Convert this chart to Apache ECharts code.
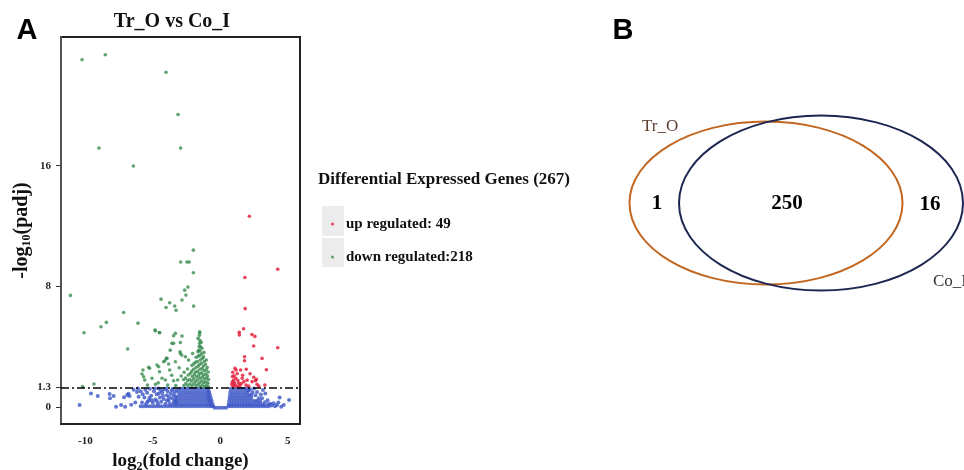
<!DOCTYPE html>
<html>
<head>
<meta charset="utf-8">
<title>Tr_O vs Co_I</title>
<script src="https://cdn.jsdelivr.net/npm/echarts@6/dist/echarts.min.js"></script>
<style>
  html, body { margin: 0; padding: 0; background: #fff; }
  #chart { width: 964px; height: 470px; }
</style>
</head>
<body>
<div id="chart"></div>
<script>
// volcano plot: [log2 fold change, -log10 padj]
const upRegulated = [
  [2.15, 12.65], [4.25, 9.13], [1.82, 8.59], [1.84, 6.52], [1.72, 5.19], [1.4, 4.95], [1.41, 4.78],
  [2.34, 4.8], [2.56, 4.68], [2.47, 4.04], [4.25, 3.93], [1.79, 3.33], [1.79, 3.07], [3.09, 3.22],
  [3.41, 2.47], [1.08, 2.56], [1.17, 2.45], [1.5, 2.45], [1.92, 2.5], [1.02, 2.07], [0.9, 2.02],
  [1.15, 1.9], [1.62, 1.9], [2.47, 1.97], [2.67, 1.83], [1.98, 1.78], [0.98, 1.78], [1.36, 1.57],
  [1.74, 1.68], [2.35, 1.68], [2.6, 1.74], [2.72, 1.5], [0.85, 1.5], [0.95, 1.38], [1.1, 1.45],
  [1.25, 1.35], [1.45, 1.42], [1.9, 1.45], [2.1, 1.38], [2.85, 1.38], [1.3, 1.75], [1.55, 1.55],
  [0.88, 1.65], [1.05, 1.6], [1.25, 2.2], [2.2, 2.2], [1.65, 2.1], [3.3, 1.45], [0.92, 2.3]
];

const downRegulated = [
  [-10.24, 23.03], [-8.52, 23.36], [-4.02, 22.2], [-3.13, 19.4], [-8.99, 17.17], [-2.94, 17.17],
  [-6.44, 15.98], [-2.0, 10.4], [-2.94, 9.62], [-2.47, 9.62], [-2.3, 9.62], [-2.0, 8.9],
  [-2.4, 7.95], [-2.64, 7.75], [-2.55, 7.42], [-2.84, 7.09], [-4.39, 7.15], [-3.75, 6.91],
  [-4.02, 6.6], [-3.38, 6.69], [-3.28, 6.42], [-1.98, 6.69], [-11.1, 7.4], [-7.16, 6.27],
  [-8.44, 5.61], [-8.84, 5.32], [-10.1, 4.92], [-6.1, 5.56], [-4.84, 5.1], [-4.49, 4.92],
  [-6.86, 3.84], [-10.2, 1.35], [-9.36, 1.52],
  [-4.81, 5.05], [-4.52, 4.94], [-3.46, 4.72], [-3.33, 4.88], [-2.84, 4.7], [-1.53, 4.92],
  [-3.58, 4.22], [-2.96, 4.28], [-1.65, 4.55], [-1.53, 4.22], [-1.48, 3.99], [-1.6, 3.77],
  [-2.96, 3.55], [-2.05, 3.55], [-4.0, 3.22], [-4.1, 3.07], [-3.33, 3.0], [-2.59, 3.33],
  [-2.35, 3.11], [-5.24, 2.56], [-5.73, 2.45], [-4.57, 2.67], [-4.5, 2.34], [-3.83, 2.85],
  [-3.75, 2.45], [-5.06, 1.9], [-5.6, 1.79], [-4.32, 1.9], [-4.07, 1.79], [-3.46, 1.74],
  [-3.16, 1.79], [-5.8, 2.19], [-5.68, 2.0], [-5.31, 2.63], [-4.69, 2.78], [-4.2, 3.0],
  [-3.95, 3.22], [-3.71, 3.77], [-3.46, 4.22], [-2.98, 3.66], [-2.86, 3.44], [-4.8, 1.5],
  [-3.9, 1.45], [-3.3, 1.42], [-5.4, 1.45], [-4.6, 1.6], [-3.6, 2.1], [-3.05, 2.6], [-2.9, 2.05],
  [-0.9, 1.36], [-0.92, 1.58], [-0.88, 1.82], [-0.95, 2.05], [-0.9, 2.32], [-0.97, 2.62],
  [-1.05, 1.42], [-1.07, 1.66], [-1.03, 1.92], [-1.08, 2.18], [-1.05, 2.46], [-1.1, 2.82], [-1.04, 3.12],
  [-1.2, 1.35], [-1.22, 1.62], [-1.18, 1.86], [-1.23, 2.12], [-1.2, 2.42], [-1.25, 2.72],
  [-1.19, 3.02], [-1.24, 3.32], [-1.21, 3.62],
  [-1.35, 1.46], [-1.37, 1.72], [-1.33, 2.0], [-1.38, 2.26], [-1.35, 2.56], [-1.4, 2.9],
  [-1.34, 3.22], [-1.38, 3.52], [-1.36, 3.9], [-1.42, 4.3],
  [-1.5, 1.36], [-1.52, 1.62], [-1.48, 1.9], [-1.53, 2.2], [-1.5, 2.5], [-1.55, 2.82],
  [-1.49, 3.12], [-1.54, 3.42], [-1.5, 3.72], [-1.56, 4.02], [-1.52, 4.42], [-1.55, 4.75], [-1.53, 4.98],
  [-1.65, 1.5], [-1.67, 1.8], [-1.63, 2.06], [-1.68, 2.36], [-1.65, 2.7], [-1.7, 3.02],
  [-1.64, 3.36], [-1.66, 3.66],
  [-1.8, 1.4], [-1.82, 1.7], [-1.78, 2.0], [-1.83, 2.3], [-1.8, 2.62], [-1.85, 2.96], [-1.79, 3.3],
  [-1.95, 1.55], [-1.97, 1.86], [-1.93, 2.16], [-1.98, 2.5], [-1.95, 2.86],
  [-2.1, 1.4], [-2.12, 1.72], [-2.08, 2.02], [-2.13, 2.36], [-2.1, 2.76],
  [-2.25, 1.52], [-2.27, 1.82], [-2.23, 2.22],
  [-2.4, 1.4], [-2.42, 1.76], [-2.38, 2.12], [-2.43, 2.52],
  [-2.55, 1.56], [-2.57, 1.92], [-2.7, 1.42], [-2.72, 1.82], [-2.68, 2.3]
];

// not significant genes: dense rows [padj level, [log2FC ...]]
const notSignificantRows = [
  [1.2, [-3.0, -2.78, -2.55, -2.33, -2.1, -1.88, -1.66, -1.44, -1.22, -1.0, -0.88,
         0.77, 0.98, 1.2, 1.42, 1.62, 1.8]],
  [1.0, [-3.1, -2.88, -2.66, -2.44, -2.22, -2.0, -1.78, -1.56, -1.34, -1.12, -0.92, -0.82,
         0.74, 0.95, 1.17, 1.38, 1.6, 1.82, 2.0]],
  [0.8, [-3.05, -2.83, -2.61, -2.39, -2.17, -1.95, -1.73, -1.51, -1.29, -1.07, -0.9, -0.76,
         0.71, 0.92, 1.13, 1.34, 1.55, 1.76, 1.97, 2.15]],
  [0.6, [-3.2, -2.98, -2.76, -2.54, -2.32, -2.1, -1.88, -1.66, -1.44, -1.22, -1.0, -0.84, -0.7,
         0.68, 0.88, 1.08, 1.28, 1.48, 1.68, 1.88, 2.08, 2.3]],
  [0.4, [-3.3, -3.08, -2.86, -2.64, -2.42, -2.2, -1.98, -1.76, -1.54, -1.32, -1.1, -0.9, -0.76, -0.64,
         0.65, 0.84, 1.04, 1.24, 1.44, 1.64, 1.84, 2.04, 2.24, 2.45, 2.62]],
  [0.2, [-3.5, -3.28, -3.06, -2.84, -2.62, -2.4, -2.18, -1.96, -1.74, -1.52, -1.3, -1.08, -0.88, -0.72, -0.58,
         0.62, 0.8, 1.0, 1.2, 1.4, 1.6, 1.8, 2.0, 2.2, 2.4, 2.6, 2.82, 3.0]],
  [0.04, [-5.9, -5.68, -5.46, -5.24, -5.02, -4.8, -4.58, -4.36, -4.14, -3.92, -3.7, -3.48, -3.26,
          -3.04, -2.82, -2.6, -2.38, -2.16, -1.94, -1.72, -1.5, -1.28, -1.06, -0.84, -0.66, -0.53,
          0.6, 0.78, 0.98, 1.18, 1.38, 1.58, 1.78, 1.98, 2.18, 2.38, 2.58, 2.78, 2.98, 3.18, 3.38, 3.58]],
  [-0.06, [-0.42, -0.22, 0, 0.22, 0.42]]
];

// not significant genes: scattered ones [log2FC, -log10 padj]
const notSignificant = [
  [-5.8, 0.3], [-5.62, 0.62], [-5.5, 0.2], [-5.42, 0.95], [-5.3, 0.42], [-5.22, 1.2], [-5.12, 0.75],
  [-5.0, 0.28], [-4.92, 1.05], [-4.82, 0.5], [-4.72, 0.85], [-4.62, 0.22], [-4.58, 1.22], [-4.48, 0.62],
  [-4.38, 0.35], [-4.3, 0.98], [-4.2, 0.52], [-4.14, 1.18], [-4.06, 0.22], [-3.96, 0.78], [-3.9, 1.05],
  [-3.82, 0.42], [-3.74, 0.2], [-3.68, 0.88], [-3.58, 0.58], [-3.52, 1.2], [-3.44, 0.35], [-3.38, 0.98],
  [-3.3, 0.7], [-3.24, 1.12], [-3.35, 0.5], [-3.6, 1.1], [-4.0, 1.22], [-4.4, 1.1], [-4.85, 1.22],
  [-5.55, 1.15], [-5.9, 1.05], [-5.75, 0.85], [-5.25, 0.6], [-4.7, 0.4], [-4.25, 0.75], [-3.8, 0.65],
  [-3.45, 0.78], [-5.08, 0.45], [-3.95, 0.45], [-3.25, 0.3], [-4.55, 0.9], [-5.4, 0.35],
  [-6.05, 0.68], [-6.17, 1.0], [-6.42, 1.15], [-6.72, 0.73], [-6.8, 0.88], [-7.13, 0.64], [-7.05, 0.02],
  [-7.35, 0.13], [-7.72, 0.02], [-7.9, 0.73], [-8.17, 0.58], [-8.2, 0.86], [-9.08, 0.73], [-9.58, 0.9],
  [-10.42, 0.13], [-6.3, 0.3], [-6.1, 1.22], [-6.9, 0.8], [-6.6, 0.15],
  [2.2, 1.18], [2.38, 0.98], [2.5, 1.22], [2.72, 1.0], [2.6, 0.78], [2.85, 0.58], [3.0, 0.82],
  [3.16, 1.13], [3.33, 0.9], [3.09, 0.58], [2.96, 0.38], [3.3, 0.32], [3.5, 0.45], [3.7, 0.22],
  [2.1, 1.1], [2.3, 0.8], [1.98, 1.22], [2.75, 0.4], [3.2, 0.15], [3.55, 0.18], [3.8, 0.1],
  [3.95, 0.24], [4.2, 0.13], [4.39, 0.62], [4.51, 0.02], [4.69, 0.13], [5.09, 0.46], [4.05, 0.05], [4.3, 0.3]
];

const xTicks = [-10, -5, 0, 5];
const yTicks = [0, 1.3, 8, 16];
const padjCutoff = 1.3;

const upCount = 49;
const downCount = 218;

// venn: counts only in Tr_O, in both, only in Co_I
const vennSets = ['Tr_O', 'Co_I'];
const vennCounts = [1, 250, 16];

const SERIF = "'Liberation Serif', 'Times New Roman', serif";
const SANS = "'Liberation Sans', Arial, sans-serif";
const upName = 'up regulated: ' + upCount;
const downName = 'down regulated:' + downCount;

const greyPoints = notSignificant.slice();
notSignificantRows.forEach(([y, xs]) => xs.forEach(x => greyPoints.push([x, y])));

const chart = echarts.init(document.getElementById('chart'));

const legendText = { fontFamily: SERIF, fontWeight: 'bold', fontSize: 15, color: '#111', lineHeight: 16 };
const nameRich = {
  a: { fontFamily: SERIF, fontWeight: 'bold', fontSize: 20, color: '#111', lineHeight: 24 },
  b: { fontFamily: SERIF, fontWeight: 'bold', fontSize: 12, color: '#111', lineHeight: 12, verticalAlign: 'bottom' }
};

function txt(x, y, text, font, fill, align) {
  return {
    type: 'text', x: x, y: y, z: 5,
    style: { text: text, font: font, fill: fill, align: align, verticalAlign: 'middle', textAlign: align, textVerticalAlign: 'middle' }
  };
}

chart.setOption({
  animation: false,
  backgroundColor: '#fff',
  grid: {
    left: 61, right: 664, top: 37, bottom: 46,
    outerBoundsMode: 'none', containLabel: false,
    show: true, borderColor: '#222', borderWidth: 2, backgroundColor: 'transparent'
  },
  xAxis: {
    type: 'value', min: -11.8, max: 5.9,
    name: '{a|log}{b|2}{a|(fold change)}',
    nameLocation: 'middle', nameGap: 25,
    nameTextStyle: {
      rich: {
        a: Object.assign({}, nameRich.a, { fontSize: 19 }),
        b: nameRich.b
      }
    },
    axisLine: { show: true, onZero: false, lineStyle: { color: '#222', width: 2 } },
    axisTick: { show: false },
    axisLabel: {
      customValues: xTicks, margin: 12,
      fontFamily: SERIF, fontWeight: 'bold', fontSize: 11, color: '#222'
    },
    splitLine: { show: false }
  },
  yAxis: {
    type: 'value', min: -1.13, max: 24.54,
    name: '{a|-log}{b|10}{a|(padj)}',
    nameLocation: 'middle', nameGap: 19,
    nameTextStyle: { rich: nameRich },
    axisLine: { show: true, onZero: false, lineStyle: { color: '#666', width: 1.5 } },
    axisTick: { show: true, length: 5, customValues: yTicks, lineStyle: { color: '#333' } },
    axisLabel: {
      customValues: yTicks, margin: 10,
      fontFamily: SERIF, fontWeight: 'bold', fontSize: 11, color: '#222'
    },
    splitLine: { show: false }
  },
  legend: [
    {
      data: [upName], left: 326, top: 211, icon: 'circle', itemWidth: 17, itemHeight: 3,
      selectedMode: false, z: 10, textStyle: legendText
    },
    {
      data: [downName], left: 326, top: 244, icon: 'circle', itemWidth: 17, itemHeight: 3,
      selectedMode: false, z: 10, textStyle: legendText
    }
  ],
  series: [
    {
      name: 'not significant', type: 'scatter', data: greyPoints,
      symbolSize: 4, itemStyle: { color: '#3b55c5' }, silent: true,
      markLine: {
        silent: true, symbol: ['none', 'none'], label: { show: false },
        lineStyle: { color: '#000', width: 1.6, type: [8, 3, 2, 3] },
        data: [{ yAxis: padjCutoff }]
      }
    },
    {
      name: downName, type: 'scatter', data: downRegulated,
      symbolSize: 3.6, itemStyle: { color: '#3a8c50' }, silent: true
    },
    {
      name: upName, type: 'scatter', data: upRegulated,
      symbolSize: 3.6, itemStyle: { color: '#e21432' }, silent: true
    }
  ],
  graphic: [
    txt(172, 22, 'Tr_O vs Co_I', 'bold 20px ' + SERIF, '#111', 'center'),
    txt(27, 31, 'A', 'bold 29px ' + SANS, '#000', 'center'),
    txt(623, 31, 'B', 'bold 29px ' + SANS, '#000', 'center'),
    txt(318, 180, 'Differential Expressed Genes (' + (upCount + downCount) + ')', 'bold 17px ' + SERIF, '#111', 'left'),
    { type: 'rect', z: 1, shape: { x: 322, y: 206, width: 22, height: 30 }, style: { fill: '#ececec' } },
    { type: 'rect', z: 1, shape: { x: 322, y: 238, width: 22, height: 29 }, style: { fill: '#ececec' } },
    // venn
    { type: 'ellipse', shape: { cx: 766, cy: 203, rx: 136.5, ry: 81.5 }, style: { fill: 'none', stroke: '#c2661f', lineWidth: 2 } },
    { type: 'ellipse', shape: { cx: 821, cy: 203, rx: 142, ry: 87.5 }, style: { fill: 'none', stroke: '#1c2650', lineWidth: 2 } },
    txt(642, 127, vennSets[0], '17px ' + SERIF, '#5a3e30', 'left'),
    txt(933, 282, vennSets[1], '17px ' + SERIF, '#333', 'left'),
    txt(657, 204, String(vennCounts[0]), 'bold 21px ' + SERIF, '#000', 'center'),
    txt(787, 204, String(vennCounts[1]), 'bold 21px ' + SERIF, '#000', 'center'),
    txt(930, 205, String(vennCounts[2]), 'bold 21px ' + SERIF, '#000', 'center')
  ]
});
</script>
</body>
</html>
